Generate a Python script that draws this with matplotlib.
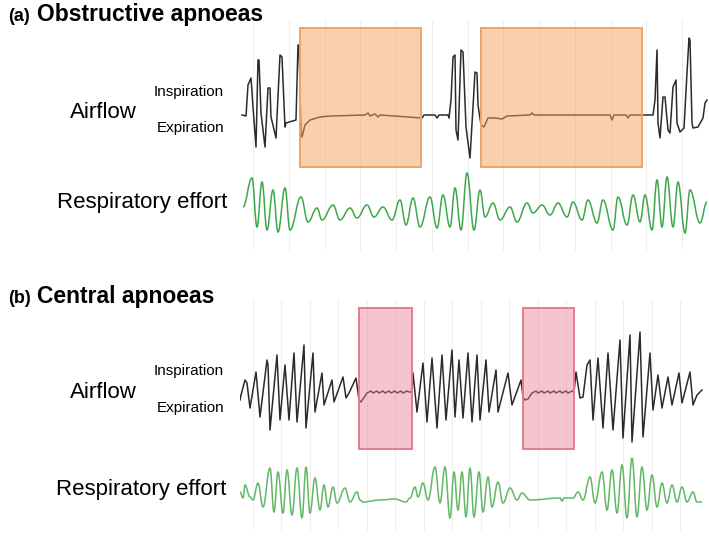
import numpy as np
import matplotlib
matplotlib.use('Agg')
import matplotlib.pyplot as plt
from matplotlib.patches import Rectangle, PathPatch
from matplotlib.path import Path

plt.rcParams['font.family'] = ['Liberation Sans', 'DejaVu Sans']

# time (samples) / amplitude pairs
# (a) obstructive apnoeas
a_flow = [(2, 0), (6, -1), (8, 30), (11, 37), (13, 8), (16, -32), (18, 55), (19, 55), (21, 2), (25, -32),
          (28, 27), (30, 27), (31, -2), (36, -23), (40, 60), (42, 58), (45, -12), (46, -8), (56, -5), (58, 70),
          (59, 70), (61, -18), (62, -22), (65, -10), (70, -5), (80, -2), (90, -1), (125, 0), (128, 2), (130, -1),
          (135, 1), (138, -2), (140, 0), (182, -3), (184, 0), (195, 0), (197, -3), (199, 0), (208, 0), (209, -3),
          (211, 15), (213, 58), (215, 60), (216, -15), (218, -25), (221, 65), (223, 63), (226, -12), (230, -43),
          (233, 8), (235, 43), (237, 42), (238, 10), (241, -10), (244, -12), (248, -3), (255, -3), (262, -4),
          (267, -1), (290, 0), (292, 2), (294, 0), (370, 0), (372, -5), (374, 0), (386, 0), (388, -3), (390, 0),
          (402, 0), (413, 0), (415, 15), (417, 65), (418, -8), (420, -23), (423, 18), (425, 18), (428, -15),
          (430, -18), (433, 28), (436, 35), (437, -8), (440, -17), (444, -13), (447, 42), (449, 77), (450, 75),
          (452, -8), (453, -13), (458, -12), (463, -3), (465, 12), (467, 15)]
a_effort = [(3, -2), (12, 27), (17, -22), (22, 23), (27, -25), (33, 15), (38, -27), (45, 17), (50, -25), (61, 8),
            (68, -17), (77, -3), (82, -15), (93, 0), (100, -15), (110, -3), (117, -13), (127, 0), (134, -12),
            (143, -2), (152, -15), (160, 5), (166, -20), (173, 7), (180, -22), (190, 8), (197, -23), (203, 10),
            (210, -22), (215, 17), (221, -25), (227, 32), (234, -25), (240, 15), (245, -12), (253, 2), (260, -15),
            (270, -2), (277, -17), (287, 2), (293, -8), (302, 0), (310, -10), (318, 2), (327, -12), (333, 3),
            (342, -15), (348, 5), (357, -18), (363, 5), (373, -25), (378, 8), (387, -20), (393, 10), (400, -17),
            (405, 10), (412, -25), (417, 25), (422, -22), (427, 28), (433, -22), (438, 23), (445, -28), (450, 15),
            (460, -18), (467, 3)]
obstructive_events = [(60, 181), (241, 402)]

# (b) central apnoeas
b_flow = [(0, -8), (1, -3), (5, 12), (7, 9), (10, -16), (16, 20), (20, -25), (27, 32), (28, 27), (30, -38),
          (37, 37), (40, -28), (45, 27), (49, -28), (54, 39), (57, -30), (64, 47), (66, -36), (73, 39), (75, -20),
          (82, 19), (84, -13), (92, 12), (94, -10), (103, 15), (106, -6), (109, -1), (116, 14), (119, -8),
          (121, -10), (127, -1), (131, 1), (133, -1), (137, 1), (139, -1), (143, 1), (145, -1), (149, 1), (151, -1),
          (155, 1), (157, -1), (161, 1), (163, -1), (167, 1), (169, 0), (172, 0), (173, 19), (177, -20), (183, 29),
          (187, -30), (192, 34), (197, -36), (202, 37), (206, -28), (212, 42), (215, -25), (219, 32), (223, -26),
          (228, 39), (232, -30), (237, 37), (240, -28), (246, 32), (249, -20), (256, 22), (258, -20), (268, 19),
          (272, -13), (281, 12), (283, -5), (285, -8), (288, -7), (292, -1), (296, 1), (298, -1), (302, 1),
          (304, -1), (308, 1), (310, -1), (314, 1), (316, -1), (320, 1), (322, -1), (326, 1), (328, -1), (332, 1),
          (334, 0), (336, 20), (340, -6), (343, -5), (347, 27), (350, 32), (353, -28), (358, 34), (363, -36),
          (368, 39), (373, -38), (380, 52), (383, -46), (390, 57), (392, -50), (400, 60), (403, -45), (410, 39),
          (413, -18), (418, 17), (422, -16), (428, 15), (432, -13), (439, 19), (442, -11), (450, 20), (453, -13),
          (457, -3), (460, 0), (462, 2)]
b_effort = [(0, 8), (3, 2), (5, 15), (10, 3), (13, 0), (18, 17), (23, -7), (30, 32), (34, -12), (38, 28),
            (43, -13), (47, 30), (52, -15), (57, 32), (62, -18), (66, 33), (70, -13), (75, 22), (80, -10), (84, 15),
            (88, -7), (93, 13), (97, -3), (105, 12), (110, -2), (117, 8), (120, 0), (123, -2), (140, 0), (155, 1),
            (166, -2), (170, 2), (175, 13), (178, 3), (183, 17), (188, 0), (195, 33), (200, -3), (205, 33),
            (210, -18), (214, 28), (218, -10), (222, 28), (226, -17), (230, 32), (234, -17), (239, 28), (243, -12),
            (248, 23), (252, -7), (258, 18), (263, -3), (270, 12), (277, 0), (282, 7), (290, 0), (320, 2),
            (322, -1), (324, 2), (333, 2), (338, 8), (343, 0), (350, 23), (355, -3), (362, 28), (367, -10),
            (372, 30), (377, -13), (382, 35), (387, -18), (392, 42), (397, -17), (402, 33), (407, -10), (412, 25),
            (417, -7), (422, 17), (427, -3), (432, 15), (437, -2), (442, 13), (447, -2), (453, 8), (457, -2),
            (462, -2)]
central_events = [(119, 172), (283, 334)]

W, H = 709, 542
fig = plt.figure(figsize=(W / 100, H / 100), dpi=100)


def fx(x):
    return x / W


def fy(y):
    return 1 - y / H


def smooth_path(pts, off):
    # cubic bezier with flat tangents at every turning point
    verts = [(pts[0][0], pts[0][1] + off)]
    codes = [Path.MOVETO]
    for (t0, v0), (t1, v1) in zip(pts[:-1], pts[1:]):
        d = (t1 - t0) * 0.4
        verts += [(t0 + d, v0 + off), (t1 - d, v1 + off), (t1, v1 + off)]
        codes += [Path.CURVE4] * 3
    return Path(verts, codes)


def panel(top, bottom, ylim, effort_off, flow, effort, events, grid_step, box_y, face, edge, green):
    ax = fig.add_axes([fx(240), fy(bottom), fx(469), (bottom - top) / H])
    ax.set_xlim(0, 469)
    ax.set_ylim(*ylim)
    ax.axis('off')
    grid = np.arange(13, 450, grid_step)
    ax.vlines(grid, ylim[0] + 2, ylim[1] - 2, colors='#eeeeee', lw=0.8, zorder=0)
    t, v = np.array(flow).T
    ax.plot(t, v, color='#2e2a2a', lw=1.1, zorder=2)
    ax.add_patch(PathPatch(smooth_path(effort, effort_off), fill=False, edgecolor=green, lw=1.1, zorder=2))
    for s, e in events:
        ax.add_patch(Rectangle((s, box_y[1]), e - s, box_y[0] - box_y[1],
                               facecolor=face, edgecolor=edge, lw=1.4, zorder=3))
    return ax


panel(18, 252, (-137, 97), -90, a_flow, a_effort, obstructive_events, 35.75, (87, -52),
      (0.96, 0.64, 0.37, 0.5), '#f0a465', '#3da84a')
panel(298, 532, (-140, 94), -108, b_flow, b_effort, central_events, 28.47, (84, -57),
      (0.91, 0.5, 0.58, 0.45), '#e27d8c', '#62b866')

# titles
fig.text(fx(8), fy(21), '(a)', fontsize=13, fontweight='bold', va='baseline')
fig.text(fx(37), fy(21), 'Obstructive apnoeas', fontsize=16.5, fontweight='bold', va='baseline')
fig.text(fx(8), fy(303), '(b)', fontsize=13, fontweight='bold', va='baseline')
fig.text(fx(37), fy(303), 'Central apnoeas', fontsize=16.5, fontweight='bold', va='baseline')

# trace labels
for base in (0, 280):
    fig.text(fx(137), fy(118 + base), 'Airflow', fontsize=16, ha='right', va='baseline')
    fig.text(fx(224), fy(96 + base - (1 if base else 0)), 'Inspiration', fontsize=11, ha='right', va='baseline')
    fig.text(fx(224), fy(132 + base), 'Expiration', fontsize=11, ha='right', va='baseline')
fig.text(fx(227), fy(208), 'Respiratory effort', fontsize=16, ha='right', va='baseline')
fig.text(fx(226), fy(495), 'Respiratory effort', fontsize=16, ha='right', va='baseline')

fig.savefig('out.png', dpi=100)
